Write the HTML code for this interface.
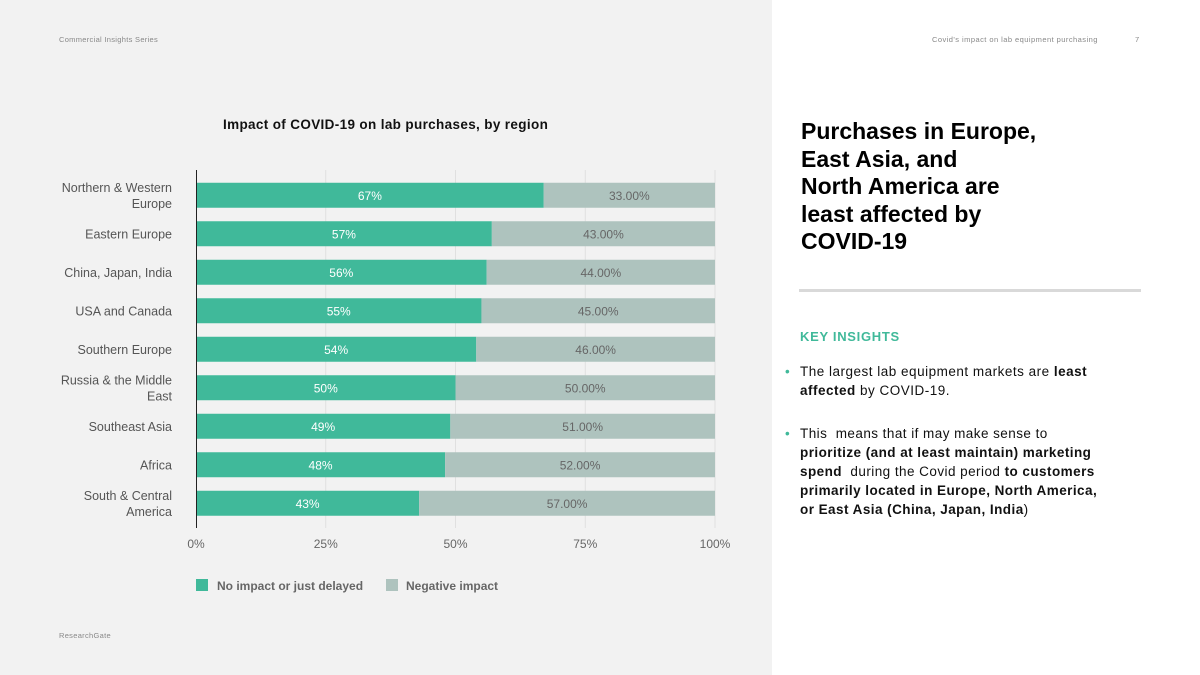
<!DOCTYPE html>
<html><head><meta charset="utf-8"><style>
body{margin:0;width:1200px;height:675px;position:relative;background:#fff;font-family:"Liberation Sans",sans-serif;overflow:hidden}
#left{position:absolute;left:0;top:0;width:772px;height:675px;background:#f2f2f2}
.t{position:absolute;white-space:nowrap}
</style></head><body>
<div id="left"></div>
<div class="t" style="left:59px;top:35px;font-size:7.5px;color:#888;letter-spacing:0.3px">Commercial Insights Series</div>
<div class="t" style="left:59px;top:631px;font-size:7.5px;color:#888;letter-spacing:0.3px">ResearchGate</div>
<div class="t" style="left:932px;top:35px;font-size:7.5px;color:#888;letter-spacing:0.45px">Covid's impact on lab equipment purchasing</div>
<div class="t" style="left:1135px;top:35px;font-size:7.5px;color:#888">7</div>
<div class="t" style="left:223px;top:117px;font-size:13.5px;font-weight:bold;color:#111;letter-spacing:0.35px">Impact of COVID-19 on lab purchases, by region</div>
<svg id="chart" width="772" height="620" style="position:absolute;left:0;top:0" font-family="Liberation Sans, sans-serif"></svg>
<div class="t" style="left:801px;top:118px;font-size:23px;font-weight:bold;color:#000;line-height:27.5px">Purchases in Europe,<br>East Asia, and<br>North America are<br>least affected by<br>COVID-19</div>
<div style="position:absolute;left:799px;top:289px;width:342px;height:3px;background:#d9d9d9"></div>
<div class="t" style="left:800px;top:329px;font-size:13px;font-weight:bold;color:#40b99a;letter-spacing:0.7px">KEY INSIGHTS</div>
<div class="t" style="left:800px;top:362px;font-size:13.5px;color:#111;line-height:19px;letter-spacing:0.5px"><span style="position:absolute;left:-15px;color:#40b99a">•</span>The largest lab equipment markets are <b>least</b><br><b>affected</b> by COVID-19.</div>
<div class="t" style="left:800px;top:424px;font-size:13.5px;color:#111;line-height:19px;letter-spacing:0.45px"><span style="position:absolute;left:-15px;color:#40b99a">•</span>This &nbsp;means that if may make sense to<br><b>prioritize (and at least maintain) marketing</b><br><b>spend</b> &nbsp;during the Covid period <b>to customers</b><br><b>primarily located in Europe, North America,</b><br><b>or East Asia (China, Japan, India</b>)</div>
<script>
const categories=[["Northern & Western","Europe"],["Eastern Europe"],["China, Japan, India"],["USA and Canada"],["Southern Europe"],["Russia & the Middle","East"],["Southeast Asia"],["Africa"],["South & Central","America"]];
const noImpact=[67,57,56,55,54,50,49,48,43];
const negative=[33,43,44,45,46,50,51,52,57];
const ticks=[0,25,50,75,100];
const svg=document.getElementById('chart');
const NS='http://www.w3.org/2000/svg';
const x0=196,x1=715,top0=176,band=38.5,bh=25;
const xs=v=>x0+(x1-x0)*v/100;
const yc=i=>top0+band*i+band/2;
function mk(t,a){const e=document.createElementNS(NS,t);for(const k in a)e.setAttribute(k,a[k]);svg.appendChild(e);return e;}
ticks.forEach((t,i)=>{
 if(t>0){const g=mk('line',{x1:xs(t),x2:xs(t),y1:170,y2:528,stroke:'#e0e0e0','stroke-width':1});
 
 }
 const l=mk('text',{x:xs(t),y:548,'text-anchor':'middle','font-size':12,fill:'#666'});l.textContent=t+'%';
 
 
});
categories.forEach((c,i)=>{
 const y=yc(i);
 const a=mk('rect',{x:xs(0),y:y-bh/2,width:xs(noImpact[i])-xs(0),height:bh,fill:'#40b99a'});
 
 
 const b=mk('rect',{x:xs(noImpact[i]),y:y-bh/2,width:xs(noImpact[i]+negative[i])-xs(noImpact[i]),height:bh,fill:'#aec3be'});
 
 
 const ta=mk('text',{x:(xs(0)+xs(noImpact[i]))/2,y:y+4.5,'text-anchor':'middle','font-size':12,fill:'#fff'});ta.textContent=noImpact[i]+'%';
 
 
 const tb=mk('text',{x:(xs(noImpact[i])+xs(noImpact[i]+negative[i]))/2,y:y+4.5,'text-anchor':'middle','font-size':12,fill:'#666'});tb.textContent=negative[i].toFixed(2)+'%';
 
 
 c.forEach((ln,j)=>{
  const ty=c.length===1?y+4.5:y-3.5+j*16;
  const t=mk('text',{x:172,y:ty,'text-anchor':'end','font-size':12.5,fill:'#555'});t.textContent=ln;
  
  
 });
});
const ax=mk('line',{x1:196.5,x2:196.5,y1:170,y2:528,stroke:'#222','stroke-width':1});


[[196,'#40b99a','No impact or just delayed',217],[386,'#aec3be','Negative impact',406]].forEach(l=>{
 const r=mk('rect',{x:l[0],y:579,width:12,height:12,fill:l[1]});
 
 
 const t=mk('text',{x:l[3],y:590,'font-size':12,'font-weight':'bold',fill:'#666'});t.textContent=l[2];
 
 
});
</script>
</body></html>
